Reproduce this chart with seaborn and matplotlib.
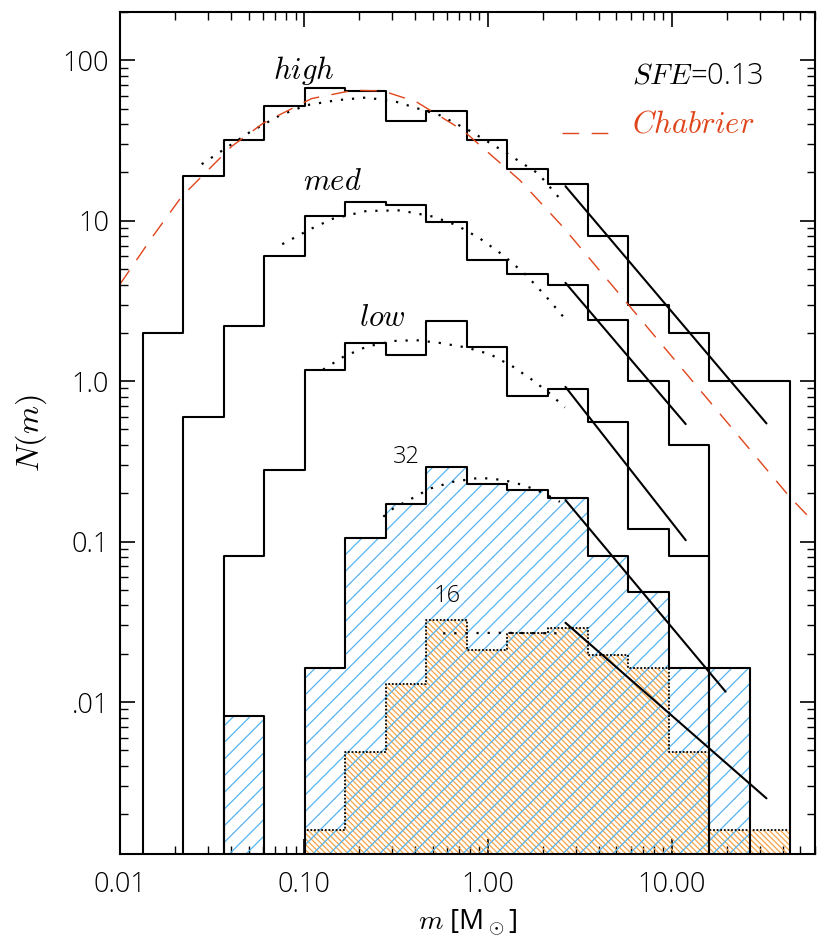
import numpy as np
import pandas as pd
import matplotlib
matplotlib.use("Agg")
import matplotlib.pyplot as plt
import matplotlib.ticker as mticker
import seaborn as sns

sns.set_style("ticks")
plt.rcParams['font.family'] = ['Open Sans', 'DejaVu Sans']
plt.rcParams['font.weight'] = 'light'
plt.rcParams['mathtext.fontset'] = 'cm'
plt.rcParams['hatch.linewidth'] = 0.9
for key in ('text.color', 'axes.labelcolor', 'xtick.color', 'ytick.color', 'axes.edgecolor'):
    plt.rcParams[key] = 'black'

# histogram bin edges [Msun]
m_edges = [0.0133, 0.0221, 0.0367, 0.0610, 0.101, 0.168, 0.278, 0.461, 0.766,
           1.27, 2.11, 3.50, 5.80, 9.62, 16.0, 26.5, 43.9]

# N(m) per bin for each run
n_high = [2, 19, 32, 52, 67, 64, 42, 48, 32, 21, 17, 8.0, 3.0, 2.0, 1.0, 1.0]
n_med = [0, 0.60, 2.2, 6.0, 10.7, 13.0, 12.5, 9.8, 5.7, 4.65, 4.0, 2.4, 1.0, 0.40, 0, 0]
n_low = [0, 0, 0.081, 0.28, 1.17, 1.73, 1.45, 2.37, 1.64, 0.81, 0.89, 0.56, 0.12, 0.081, 0, 0]
n_32 = [0, 0, 0.0082, 0, 0.0163, 0.105, 0.171, 0.291, 0.227, 0.209, 0.186, 0.081,
        0.0486, 0.0163, 0.0163, 0]
n_16 = [0, 0, 0, 0, 0.0016, 0.0049, 0.0129, 0.0324, 0.0211, 0.027, 0.029, 0.0196,
        0.0163, 0.0049, 0.0016, 0.0016]

# lognormal fits (dotted)
fit_high_m = [0.0278, 0.0509, 0.0741, 0.1035, 0.151, 0.219, 0.319, 0.548, 0.798, 1.236, 1.876, 2.55]
fit_high_n = [22.5, 35.7, 45.4, 52.5, 56.4, 58.6, 55.0, 45.4, 36.3, 26.8, 19.7, 13.1]
fit_med_m = [0.0762, 0.110, 0.144, 0.219, 0.333, 0.505, 0.676, 0.905, 1.21, 1.62, 2.08, 2.57]
fit_med_n = [7.14, 8.94, 10.3, 11.5, 11.6, 10.6, 9.38, 7.75, 6.10, 4.57, 3.35, 2.52]
fit_low_m = [0.127, 0.164, 0.219, 0.306, 0.409, 0.548, 0.766, 1.03, 1.37, 1.76, 2.17, 2.62]
fit_low_n = [1.18, 1.42, 1.64, 1.78, 1.80, 1.73, 1.62, 1.47, 1.23, 1.01, 0.837, 0.685]
fit_32_m = [0.270, 0.306, 0.377, 0.484, 0.648, 0.905, 1.21, 1.56, 2.00, 2.46]
fit_32_n = [0.143, 0.161, 0.183, 0.214, 0.236, 0.250, 0.242, 0.225, 0.201, 0.177]
fit_16_m = [0.571, 1.17, 2.56]
fit_16_n = [0.0268, 0.0270, 0.0268]

# power-law tails (solid)
pl_m = {'high': [2.64, 32.7], 'med': [2.64, 11.9], 'low': [2.64, 11.9],
        '32': [2.64, 19.6], '16': [2.64, 32.7]}
pl_n = {'high': [16.4, 0.545], 'med': [4.10, 0.54], 'low': [0.921, 0.102],
        '32': [0.1815, 0.0116], '16': [0.0312, 0.00251]}

# Chabrier IMF (dashed)
chab_m = [0.01, 0.0149, 0.0216, 0.0405, 0.0601, 0.110, 0.185, 0.269, 0.409, 0.731,
          1.49, 2.56, 5.77, 43.7, 60.0]
chab_n = [4.02, 7.85, 14.1, 29.1, 40.6, 57.7, 65.0, 64.4, 55.0, 36.6, 17.9, 9.14,
          3.02, 0.19, 0.13]

red = '#e0441a'
blue = '#55b4ee'
orange = '#f5a347'

fig = plt.figure(figsize=(8.3, 9.5), dpi=100)
ax = fig.add_axes([0.1446, 0.1011, 0.8373, 0.8863])
ax.set_xscale('log')
ax.set_yscale('log')

# hatched histograms
ax.stairs(n_16, m_edges, fill=True, baseline=0, hatch='\\' * 6,
          facecolor='none', edgecolor=orange, linewidth=0)
ax.stairs(n_32, m_edges, fill=True, baseline=0, hatch='//',
          facecolor='none', edgecolor=blue, linewidth=0)

# outlines through seaborn (bins in log10 space, padded with one empty bin each side)
lb = np.log10(m_edges)
step = lb[1] - lb[0]
bins = [lb[0] - step] + list(lb) + [lb[-1] + step]
centers = np.sqrt(np.array(m_edges[:-1]) * np.array(m_edges[1:]))


def outline(values, **kw):
    df = pd.DataFrame({'m': centers, 'w': values})
    sns.histplot(data=df, x='m', weights='w', bins=bins, element='step',
                 fill=False, ax=ax, **kw)


for vals in (n_high, n_med, n_low, n_32):
    outline(vals, color='black', linewidth=1.5)
outline(n_16, color='black', linewidth=1.3, linestyle=(0, (1, 1)))

dotted = dict(color='black', linewidth=1.6, linestyle=(0, (1, 4)),
              estimator=None, sort=False)
for fm, fn in ((fit_high_m, fit_high_n), (fit_med_m, fit_med_n),
               (fit_low_m, fit_low_n), (fit_32_m, fit_32_n), (fit_16_m, fit_16_n)):
    sns.lineplot(x=fm, y=fn, ax=ax, **dotted)

for key in pl_m:
    sns.lineplot(x=pl_m[key], y=pl_n[key], ax=ax, color='black', linewidth=1.5,
                 estimator=None, sort=False)

sns.lineplot(x=chab_m, y=chab_n, ax=ax, color=red, linewidth=1.0,
             linestyle=(0, (12, 9)), estimator=None, sort=False)

ax.set_xlim(0.01, 60)
ax.set_ylim(0.00113, 200)

ax.set_xticks([0.01, 0.1, 1, 10])
ax.set_xticklabels(['0.01', '0.10', '1.00', '10.00'])
ax.set_yticks([0.01, 0.1, 1, 10, 100])
ax.set_yticklabels(['.01', '0.1', '1.0', '10', '100'])
for axis in (ax.xaxis, ax.yaxis):
    axis.set_minor_locator(mticker.LogLocator(base=10, subs=np.arange(2, 10), numticks=100))
    axis.set_minor_formatter(mticker.NullFormatter())
ax.tick_params(which='both', direction='in', top=True, right=True, labelsize=19.5)
ax.tick_params(which='major', length=11, width=1.2)
ax.tick_params(which='minor', length=5.5, width=1.0)
ax.tick_params(axis='x', pad=12)
ax.tick_params(axis='y', pad=8)
for sp in ax.spines.values():
    sp.set_linewidth(1.5)

ax.set_xlabel(r'$m$ [M$_\odot$]', fontsize=20, labelpad=6)
ax.set_ylabel(r'$N(m)$', fontsize=23, labelpad=10)

lab = dict(transform=ax.transAxes, fontsize=22, ha='center', va='center')
ax.text(0.265, 0.930, r'$high$', **lab)
ax.text(0.305, 0.798, r'$med$', **lab)
ax.text(0.378, 0.637, r'$low$', **lab)
ax.text(0.412, 0.472, '32', transform=ax.transAxes, fontsize=17, ha='center', va='center')
ax.text(0.471, 0.306, '16', transform=ax.transAxes, fontsize=17, ha='center', va='center')
ax.text(0.737, 0.924, r'$SFE$=0.13', transform=ax.transAxes, fontsize=21, ha='left', va='center')
ax.text(0.737, 0.866, r'$Chabrier$', transform=ax.transAxes, fontsize=22, ha='left',
        va='center', color=red)
ax.plot([0.636, 0.715], [0.856, 0.856], transform=ax.transAxes, color=red,
        linewidth=1.0, linestyle=(0, (12, 9)))

fig.savefig('out.png', dpi=100)
